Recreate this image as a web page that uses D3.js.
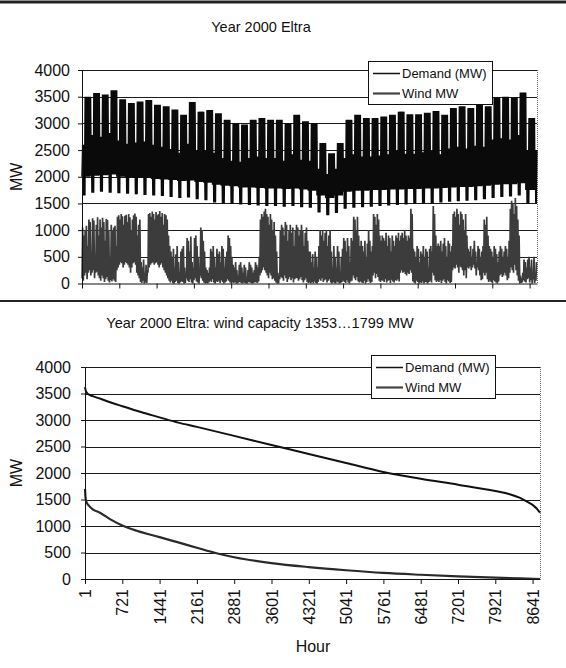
<!DOCTYPE html>
<html>
<head>
<meta charset="utf-8">
<script src="https://cdn.jsdelivr.net/npm/d3@7"></script>
<style>
  body { margin: 0; background: #fff; }
  text { font-family: "Liberation Sans", Arial, sans-serif; fill: #111; }
</style>
</head>
<body>
<div id="chart"></div>
<script>
// ---------------- data ----------------
var hourTicks = [1, 721, 1441, 2161, 2881, 3601, 4321, 5041, 5761, 6481, 7201, 7921, 8641];
var mwTicks = [0, 500, 1000, 1500, 2000, 2500, 3000, 3500, 4000];
var seriesNames = ["Demand (MW)", "Wind MW"];

// top panel, demand read week by week (week 0 starts Saturday 1 Jan 2000)
var weekdayPeak = [3500,3570,3540,3620,3450,3380,3410,3440,3350,3320,
  3260,3160,3400,3220,3250,3190,3070,3000,2980,3070,
  3100,3070,3070,3000,3160,3040,3000,2630,2440,2630,
  3070,3160,3100,3100,3130,3160,3220,3170,3170,3200,
  3230,3160,3290,3320,3290,3350,3320,3480,3500,3480,
  3580,3100,3000];
var weekendPeak = [2600,2780,2750,2820,2680,2620,2640,2660,2600,2560,
  2520,2450,2620,2480,2500,2450,2350,2300,2280,2350,
  2380,2350,2350,2300,2420,2320,2300,2150,2050,2150,
  2350,2420,2380,2380,2400,2420,2480,2430,2430,2460,
  2480,2420,2530,2560,2530,2580,2560,2700,2720,2700,
  2780,2500,2500];
var weekdayLow = [2000,2020,2030,2040,2000,1990,1980,1980,1960,1950,
  1940,1920,1930,1900,1890,1850,1830,1820,1800,1800,
  1790,1780,1780,1770,1780,1760,1740,1650,1600,1650,
  1720,1740,1740,1750,1750,1760,1760,1770,1770,1780,
  1780,1790,1800,1810,1810,1820,1830,1850,1860,1860,
  1880,1750,1750];
var weekendLow = [1650,1700,1720,1700,1690,1680,1670,1660,1650,1640,
  1620,1600,1610,1580,1560,1520,1500,1490,1480,1470,
  1460,1450,1450,1440,1450,1430,1420,1330,1280,1320,
  1400,1420,1430,1440,1450,1460,1470,1480,1490,1500,
  1500,1520,1530,1540,1550,1560,1580,1600,1620,1630,
  1650,1500,1500];

// top panel, wind: daily high and low (366 days)
var windHigh = [1050,900,1000,1080,700,
  1200,1150,600,1220,1180,400,1100,1240,900,
  1200,1050,1230,1150,800,1210,1190,1000,500,1100,1000,
  1050,1080,700,
  1250,1280,1200,1300,1260,1100,1270,1290,1150,1300,1240,1000,1200,1280,1310,1250,900,1100,1200,
  400,300,450,200,350,250,
  1300,1320,1250,1350,1300,1200,1340,1280,1300,1360,1250,1320,1100,1300,1280,1200,900,700,
  600,500,650,300,550,700,400,200,600,650,700,300,150,
  850,800,600,880,400,300,850,900,700,500,200,
  1050,1000,800,600,
  300,250,200,300,
  650,600,700,500,300,650,550,600,400,700,650,300,500,600,
  900,850,700,500,
  350,300,400,250,150,350,400,300,200,350,300,100,250,400,350,300,200,250,400,350,300,500,
  1200,1300,1250,1350,1400,1300,1250,1100,1300,1200,1000,1150,900,600,
  200,150,
  1000,1100,1050,900,1150,1100,800,1000,1100,950,1050,700,1000,1100,
  1050,900,1000,1100,1000,700,950,1050,800,600,
  600,400,550,300,600,500,300,700,
  1000,900,1000,800,950,1000,700,900,1000,600,300,
  700,500,300,700,600,200,500,650,
  850,800,600,850,700,400,850,800,
  1250,1200,1000,1250,900,700,
  800,700,600,800,500,750,1000,800,600,700,
  1300,1250,1100,1300,1200,900,800,
  900,850,800,950,700,900,850,600,900,800,700,900,850,950,800,
  900,950,850,1000,900,800,900,850,
  1400,1300,
  650,600,500,700,650,400,600,550,700,500,650,600,300,650,700,600,
  1450,1300,900,700,
  750,700,800,600,750,850,700,500,800,750,600,700,
  1300,1350,1250,1400,1300,1100,1350,1300,1200,1000,1300,900,
  650,600,700,500,650,800,600,400,700,650,500,600,700,
  1200,1100,1250,900,700,
  650,600,500,700,650,550,400,600,700,650,500,600,700,650,500,800,
  1400,1550,1500,1300,1600,1450,1200,900,
  150,100,200,
  450,400,300,450,
  500,300,450,150,500,200,400];
var windLow = [100,50,150,200,80,
  200,250,150,200,250,100,200,220,150,
  100,50,150,100,30,80,120,50,20,60,40,
  80,50,30,
  250,300,350,400,380,300,350,400,380,350,300,200,300,380,400,350,200,150,100,
  30,10,50,0,20,10,
  200,300,350,380,400,350,380,400,350,300,350,380,300,250,200,150,100,50,
  20,50,10,0,30,50,10,0,20,40,30,0,10,
  100,50,30,80,20,0,60,100,40,20,0,
  150,100,50,20,
  0,10,0,20,
  50,30,80,20,0,40,30,50,10,60,30,0,20,40,
  80,50,20,0,
  20,10,30,0,0,20,30,10,0,20,10,0,0,30,20,10,0,10,30,20,10,40,
  150,200,250,300,250,200,150,100,200,150,80,100,50,20,
  0,0,
  80,120,100,50,150,100,30,80,120,60,100,20,80,100,
  100,50,80,120,60,20,60,100,30,10,
  20,0,30,0,40,10,0,30,
  80,50,100,30,60,80,20,50,80,20,0,
  30,10,0,40,20,0,10,30,
  50,30,10,60,20,0,40,50,
  150,100,60,120,40,20,
  40,20,10,50,0,30,80,40,10,30,
  150,200,100,180,120,50,30,
  60,50,30,80,20,50,60,10,70,40,20,60,50,80,40,
  200,250,200,220,180,150,200,180,
  250,200,
  40,20,0,50,30,0,20,10,40,0,30,20,0,30,50,20,
  200,150,60,30,
  50,30,60,10,50,80,30,0,60,40,10,30,
  250,300,280,350,300,200,320,300,250,150,250,100,
  300,280,320,250,300,350,280,150,300,250,150,60,80,
  200,150,200,80,30,
  50,30,10,60,40,20,0,40,150,180,120,150,200,150,60,100,
  200,300,250,200,350,250,150,50,
  0,10,20,
  60,40,20,80,
  100,20,60,0,80,10,50];

// bottom panel, duration curves (hours sorted by MW)
var demandDurHour = [1,20,60,150,300,500,721,1081,1441,1801,2161,2881,3601,4321,5041,5761,6481,7201,7921,8200,8400,8550,8650,8730,8784];
var demandDurMW   = [3620,3540,3490,3450,3400,3330,3260,3150,3050,2950,2870,2700,2530,2360,2190,2020,1890,1780,1660,1600,1530,1450,1390,1320,1250];
var windDurHour = [1,10,30,80,160,290,500,721,1000,1441,1801,2161,2521,2881,3601,4321,5041,5761,6481,7201,7921,8400,8784];
var windDurMW   = [1700,1550,1450,1380,1310,1250,1120,1010,910,790,690,590,490,410,300,225,165,115,80,50,25,10,0];

// ---------------- drawing ----------------
var W = 566, H = 668;
var svg = d3.select("#chart").append("svg")
  .attr("width", W).attr("height", H);

svg.append("rect").attr("width", W).attr("height", H).attr("fill", "#fff");

// frame lines of the page
svg.append("line").attr("x1", 0).attr("x2", W).attr("y1", 2).attr("y2", 2)
  .attr("stroke", "#222").attr("stroke-width", 3);
svg.append("line").attr("x1", 0).attr("x2", W).attr("y1", 301).attr("y2", 301)
  .attr("stroke", "#222").attr("stroke-width", 2);

function panel(cfg) {
  var x = d3.scaleLinear().domain([1, 8784]).range([cfg.left, cfg.right]);
  var y = d3.scaleLinear().domain([0, 4000]).range([cfg.bottom, cfg.top]);
  var g = svg.append("g");

  // gridlines
  g.selectAll(".grid").data(mwTicks.filter(function(d) { return d > 0; }))
    .enter().append("line")
    .attr("x1", cfg.left).attr("x2", cfg.right)
    .attr("y1", function(d) { return Math.round(y(d)) + 0.5; })
    .attr("y2", function(d) { return Math.round(y(d)) + 0.5; })
    .attr("stroke", "#1a1a1a").attr("stroke-width", 1);

  // plot area right border
  g.append("line")
    .attr("x1", cfg.right + 0.5).attr("x2", cfg.right + 0.5)
    .attr("y1", cfg.top).attr("y2", cfg.bottom)
    .attr("stroke", "#666").attr("stroke-dasharray", "1,1");

  cfg.draw(g, x, y);

  // y axis
  var ya = g.append("g").attr("transform", "translate(" + cfg.left + ",0)")
    .call(d3.axisLeft(y).tickValues(mwTicks).tickFormat(d3.format("d"))
      .tickSize(4).tickSizeOuter(0).tickPadding(cfg.yPad));
  ya.selectAll("text").style("font-size", "16px").attr("fill", "#111");
  ya.selectAll("line, path").attr("stroke", "#111");

  // x axis
  var xa = g.append("g").attr("transform", "translate(0," + cfg.bottom + ")")
    .call(d3.axisBottom(x).tickValues(hourTicks).tickSize(5).tickSizeOuter(0)
      .tickFormat(cfg.xLabels ? d3.format("d") : function() { return ""; }));
  xa.selectAll("line, path").attr("stroke", "#111");
  if (cfg.xLabels) {
    xa.selectAll("text")
      .style("font-size", "16px").attr("fill", "#111")
      .attr("text-anchor", "end")
      .attr("transform", "rotate(-90)")
      .attr("x", -10).attr("y", 0).attr("dy", "0.35em");
  }

  // MW label
  svg.append("text")
    .attr("transform", "translate(22," + (cfg.top + cfg.bottom) / 2 + ") rotate(-90)")
    .attr("text-anchor", "middle")
    .style("font-size", "16px")
    .text("MW");

  // legend
  var lg = svg.append("g").attr("transform", "translate(" + cfg.legX + "," + cfg.legY + ")");
  lg.append("rect").attr("x", 0.5).attr("y", 0.5).attr("width", 124).attr("height", 43)
    .attr("fill", "#fff").attr("stroke", "#111");
  var legStroke = [["#111", 1.5], ["#444", 2.2]];
  seriesNames.forEach(function(name, i) {
    var ly = 12.5 + i * 20;
    lg.append("line").attr("x1", 5).attr("x2", 32).attr("y1", ly).attr("y2", ly)
      .attr("stroke", legStroke[i][0]).attr("stroke-width", legStroke[i][1]);
    lg.append("text").attr("x", 34).attr("y", ly).attr("dy", "0.35em")
      .style("font-size", "13px").text(name);
  });
}

// top panel: hourly profile through the year
panel({
  left: 82, right: 537, top: 70, bottom: 283.5, yPad: 8, xLabels: false,
  legX: 368, legY: 61,
  draw: function(g, x, y) {
    var demandPts = [];
    for (var d = 0; d < 366; d++) {
      var wk = Math.floor(d / 7), dow = d % 7; // 0 = Saturday
      var low = (dow === 1 || dow === 2) ? weekendLow[wk] : weekdayLow[wk];
      var peak = (dow < 2) ? weekendPeak[wk] : weekdayPeak[wk];
      demandPts.push([d * 24 + 5, low], [d * 24 + 18, peak]);
    }
    var windPts = [];
    windHigh.forEach(function(v, d) {
      windPts.push([d * 24 + 3, windLow[d]], [d * 24 + 14, v]);
    });
    var line = d3.line().x(function(p) { return x(p[0]); }).y(function(p) { return y(p[1]); });
    g.append("path").attr("d", line(demandPts))
      .attr("fill", "none").attr("stroke", "#0a0a0a").attr("stroke-width", 1.9)
      .attr("stroke-linejoin", "bevel");
    g.append("path").attr("d", line(windPts))
      .attr("fill", "none").attr("stroke", "#3c3c3c").attr("stroke-width", 1.7)
      .attr("stroke-linejoin", "bevel");
  }
});

// bottom panel: duration curves
panel({
  left: 85, right: 540, top: 367, bottom: 579, yPad: 10, xLabels: true,
  legX: 371, legY: 355,
  draw: function(g, x, y) {
    var line = d3.line().curve(d3.curveMonotoneX)
      .x(function(p) { return x(p[0]); }).y(function(p) { return y(p[1]); });
    g.append("path").attr("d", line(d3.zip(demandDurHour, demandDurMW)))
      .attr("fill", "none").attr("stroke", "#111").attr("stroke-width", 2);
    g.append("path").attr("d", line(d3.zip(windDurHour, windDurMW)))
      .attr("fill", "none").attr("stroke", "#2a2a2a").attr("stroke-width", 2.2);
  }
});

// titles
svg.append("text").attr("x", 261).attr("y", 32).attr("text-anchor", "middle")
  .style("font-size", "14.5px").text("Year 2000 Eltra");
svg.append("text").attr("x", 260).attr("y", 328).attr("text-anchor", "middle")
  .style("font-size", "14.5px").text("Year 2000 Eltra: wind capacity 1353\u20261799 MW");
svg.append("text").attr("x", 313).attr("y", 652).attr("text-anchor", "middle")
  .style("font-size", "16px").text("Hour");
</script>
</body>
</html>
